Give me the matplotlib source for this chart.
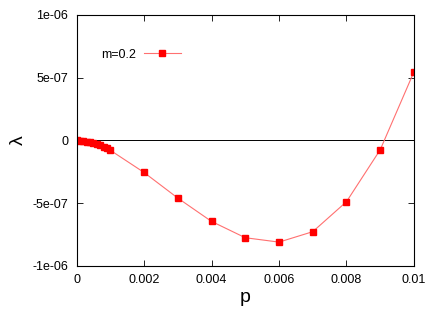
import numpy as np
import matplotlib
matplotlib.use('Agg')
import matplotlib.pyplot as plt

plt.rcParams['font.family'] = ['Liberation Sans', 'DejaVu Sans']

# data
p = [0.0, 0.0001, 0.0002, 0.0003, 0.0004, 0.0005, 0.0006, 0.0007, 0.0008, 0.0009, 0.001,
     0.002, 0.003, 0.004, 0.005, 0.006, 0.007, 0.008, 0.009, 0.01]
lam = [0.0, -0.002e-6, -0.005e-6, -0.009e-6, -0.015e-6, -0.022e-6, -0.030e-6, -0.040e-6,
       -0.051e-6, -0.063e-6, -0.078e-6,
       -0.255e-6, -0.459e-6, -0.645e-6, -0.775e-6, -0.81e-6, -0.727e-6, -0.488e-6,
       -0.074e-6, 0.547e-6]
xticks = [0, 0.002, 0.004, 0.006, 0.008, 0.01]
xticklabels = ['0', '0.002', '0.004', '0.006', '0.008', '0.01']
yticks = [-1e-6, -5e-7, 0, 5e-7, 1e-6]
yticklabels = ['-1e-06', '-5e-07', '0', '5e-07', '1e-06']

fig = plt.figure(figsize=(4.36, 3.17), dpi=100)
ax = fig.add_axes([0.1755, 0.161, 0.774, 0.792])

ax.axhline(0, color='black', linewidth=0.7)
ax.plot(p, lam, color='#ff7070', linewidth=0.8, marker='s', markersize=4.5,
        markerfacecolor='red', markeredgecolor='red', label='m=0.2')

ax.set_xlim(0, 0.01)
ax.set_ylim(-1e-6, 1e-6)
ax.set_xticks(xticks)
ax.set_xticklabels(xticklabels)
ax.set_yticks(yticks)
ax.set_yticklabels(yticklabels)
ax.tick_params(direction='in', top=True, right=True, labelsize=9, length=4, width=0.6)
ax.tick_params(axis='y', pad=6)
ax.tick_params(axis='x', pad=6)
for s in ax.spines.values():
    s.set_linewidth(0.8)

ax.set_xlabel('p', fontsize=14, labelpad=2)
ax.set_ylabel('λ', fontsize=14, labelpad=4, rotation=90)

ax.legend(loc='upper left', bbox_to_anchor=(0.04, 0.91), frameon=False,
          markerfirst=False, handlelength=3.0, fontsize=9, handletextpad=0.6)

fig.savefig('out.png', dpi=100)
